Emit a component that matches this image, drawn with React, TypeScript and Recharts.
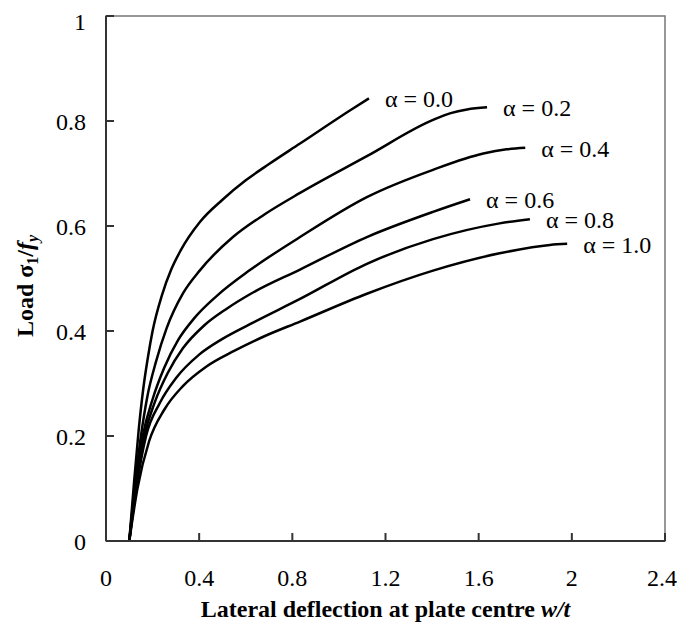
import { LineChart, Line, XAxis, YAxis, ReferenceArea, Label } from 'recharts';

// load-deflection curves, one per alpha (x = w/t, y = sigma1/fy)
const alpha00 = [
  { x: 0.1, y: 0 }, { x: 0.12, y: 0.11 }, { x: 0.14, y: 0.21 }, { x: 0.16, y: 0.29 },
  { x: 0.18, y: 0.35 }, { x: 0.2, y: 0.4 }, { x: 0.24, y: 0.468 }, { x: 0.28, y: 0.517 },
  { x: 0.32, y: 0.553 }, { x: 0.404, y: 0.608 }, { x: 0.5, y: 0.65 }, { x: 0.6, y: 0.687 },
  { x: 0.7, y: 0.718 }, { x: 0.833, y: 0.757 }, { x: 1.047, y: 0.82 }, { x: 1.129, y: 0.843 },
];
const alpha02 = [
  { x: 0.1, y: 0 }, { x: 0.122, y: 0.1 }, { x: 0.15, y: 0.2 }, { x: 0.177, y: 0.274 },
  { x: 0.215, y: 0.342 }, { x: 0.26, y: 0.405 }, { x: 0.331, y: 0.472 }, { x: 0.404, y: 0.516 },
  { x: 0.545, y: 0.579 }, { x: 0.68, y: 0.622 }, { x: 0.833, y: 0.663 }, { x: 1.12, y: 0.733 },
  { x: 1.404, y: 0.802 }, { x: 1.48, y: 0.815 }, { x: 1.55, y: 0.822 }, { x: 1.636, y: 0.826 },
];
const alpha04 = [
  { x: 0.1, y: 0 }, { x: 0.125, y: 0.1 }, { x: 0.158, y: 0.2 }, { x: 0.2, y: 0.27 },
  { x: 0.25, y: 0.33 }, { x: 0.31, y: 0.383 }, { x: 0.38, y: 0.425 }, { x: 0.476, y: 0.467 },
  { x: 0.618, y: 0.516 }, { x: 0.833, y: 0.579 }, { x: 1.12, y: 0.655 }, { x: 1.404, y: 0.707 },
  { x: 1.62, y: 0.738 }, { x: 1.72, y: 0.746 }, { x: 1.8, y: 0.749 },
];
const alpha06 = [
  { x: 0.1, y: 0 }, { x: 0.128, y: 0.1 }, { x: 0.165, y: 0.2 }, { x: 0.21, y: 0.265 },
  { x: 0.265, y: 0.32 }, { x: 0.33, y: 0.367 }, { x: 0.42, y: 0.41 }, { x: 0.52, y: 0.443 },
  { x: 0.618, y: 0.47 }, { x: 0.833, y: 0.517 }, { x: 1.12, y: 0.579 }, { x: 1.404, y: 0.627 },
  { x: 1.563, y: 0.651 },
];
const alpha08 = [
  { x: 0.1, y: 0 }, { x: 0.13, y: 0.1 }, { x: 0.172, y: 0.2 }, { x: 0.23, y: 0.262 },
  { x: 0.3, y: 0.31 }, { x: 0.4, y: 0.355 }, { x: 0.5, y: 0.385 }, { x: 0.618, y: 0.413 },
  { x: 0.833, y: 0.461 }, { x: 1.12, y: 0.528 }, { x: 1.404, y: 0.575 }, { x: 1.69, y: 0.605 },
  { x: 1.82, y: 0.613 },
];
const alpha10 = [
  { x: 0.1, y: 0 }, { x: 0.135, y: 0.1 }, { x: 0.185, y: 0.19 }, { x: 0.25, y: 0.25 },
  { x: 0.33, y: 0.295 }, { x: 0.43, y: 0.332 }, { x: 0.55, y: 0.362 }, { x: 0.68, y: 0.39 },
  { x: 0.833, y: 0.418 }, { x: 1.12, y: 0.471 }, { x: 1.404, y: 0.515 }, { x: 1.69, y: 0.548 },
  { x: 1.906, y: 0.564 }, { x: 1.98, y: 0.566 },
];

const curves = [
  { name: 'α = 0.0', data: alpha00 },
  { name: 'α = 0.2', data: alpha02 },
  { name: 'α = 0.4', data: alpha04 },
  { name: 'α = 0.6', data: alpha06 },
  { name: 'α = 0.8', data: alpha08 },
  { name: 'α = 1.0', data: alpha10 },
];

const xTicks = [0, 0.4, 0.8, 1.2, 1.6, 2, 2.4];
const yTicks = [0, 0.2, 0.4, 0.6, 0.8, 1];

const FONT = '"Liberation Serif", "Times New Roman", serif';
const AXIS = '#333';

const fmt = (v: number) => String(Math.round(v * 10) / 10);

export default function App() {
  return (
    <LineChart
      width={669}
      height={627}
      margin={{ top: 8, right: 12, left: 0, bottom: 0 }}
      style={{ fontFamily: FONT }}
    >
      <ReferenceArea x1={0} x2={2.4} y1={0} y2={1} fill="none" stroke="#777" strokeWidth={1.5} />
      <XAxis
        type="number"
        dataKey="x"
        domain={[0, 2.4]}
        ticks={xTicks}
        tickFormatter={fmt}
        height={94}
        tickSize={-8}
        tickMargin={36}
        stroke={AXIS}
        strokeWidth={2}
        tick={{ fontSize: 24, fill: '#000', fontFamily: FONT }}
        allowDataOverflow
      >
        <Label
          content={({ viewBox }: any) => (
            <text
              x={viewBox.x + viewBox.width / 2}
              y={609}
              textAnchor="middle"
              fontSize={24}
              fontWeight="bold"
              fontFamily={FONT}
              fill="#000"
            >
              Lateral deflection at plate centre <tspan fontStyle="italic">w/t</tspan>
            </text>
          )}
        />
      </XAxis>
      <YAxis
        type="number"
        domain={[0, 1]}
        ticks={yTicks}
        tickFormatter={fmt}
        width={98}
        tickSize={-8}
        tickMargin={28}
        stroke={AXIS}
        strokeWidth={2}
        tick={{ fontSize: 24, fill: '#000', fontFamily: FONT }}
      >
        <Label
          content={() => (
            <text
              x={25}
              y={278}
              transform="rotate(-90, 25, 278)"
              textAnchor="middle"
              fontSize={24}
              fontWeight="bold"
              fontFamily={FONT}
              fill="#000"
            >
              Load  σ<tspan fontSize={16} dy={5}>1</tspan>
              <tspan dy={-5}>/</tspan>
              <tspan fontStyle="italic">f</tspan>
              <tspan fontStyle="italic" fontSize={16} dy={5}>y</tspan>
            </text>
          )}
        />
      </YAxis>
      {curves.map((c) => (
        <Line
          key={c.name}
          data={c.data}
          dataKey="y"
          type="monotone"
          stroke="#000"
          strokeWidth={2.5}
          dot={false}
          isAnimationActive={false}
          label={(p: any) =>
            p.index === c.data.length - 1 ? (
              <text
                key={c.name}
                x={p.x + 16}
                y={p.y + 9}
                fontSize={24}
                fontFamily={FONT}
                fill="#000"
              >
                {c.name}
              </text>
            ) : (
              <g key={`${c.name}-${p.index}`} />
            )
          }
        />
      ))}
    </LineChart>
  );
}
